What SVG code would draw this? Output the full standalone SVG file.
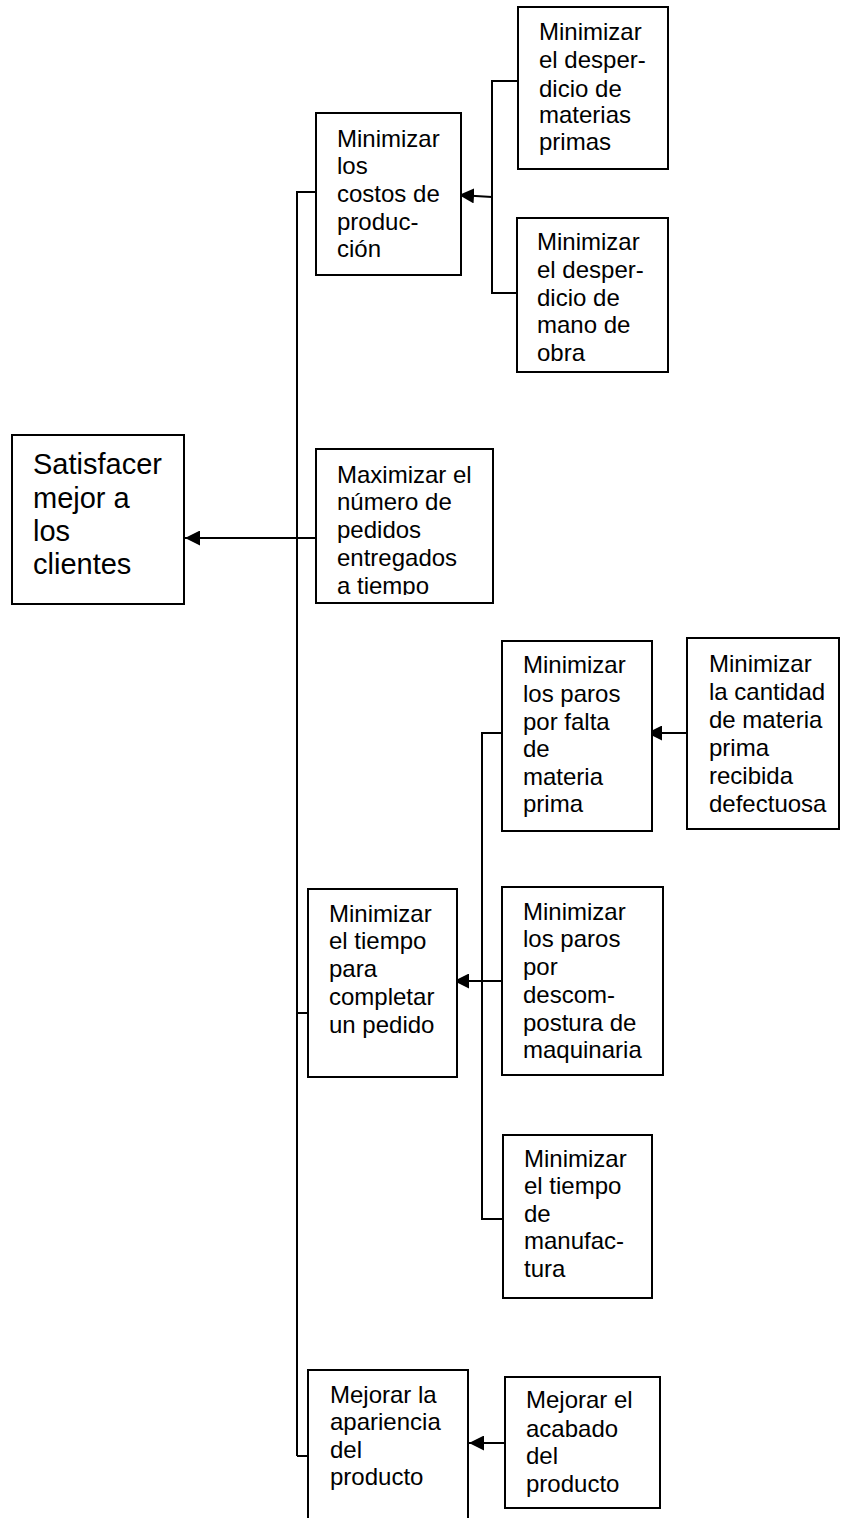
<svg xmlns="http://www.w3.org/2000/svg" width="841" height="1518" viewBox="0 0 841 1518">
<style>
.box{fill:#fff;stroke:#000;stroke-width:2}
.t{font-family:"Liberation Sans",Arial,sans-serif;font-size:24px;fill:#000}
.big{font-size:29px}
.c{fill:none;stroke:#000;stroke-width:2}
.a{fill:none;stroke:#000;stroke-width:2;marker-end:url(#ah)}
</style>
<defs>
<marker id="ah" markerUnits="userSpaceOnUse" markerWidth="16" markerHeight="15" refX="15" refY="7.5" orient="auto">
<path d="M0,0 L15,7.5 L0,15 z" fill="#000"/>
</marker>
<clipPath id="clipMax"><rect x="316" y="449" width="177" height="146"/></clipPath>
</defs>
<rect width="841" height="1518" fill="#fff"/>

<g id="connectors">
<path class="c" d="M297,1456 V192 H316"/>
<path class="c" d="M297,1013 H308"/>
<path class="c" d="M297,1456 H308"/>
<line class="a" x1="316" y1="538" x2="185" y2="538"/>
<path class="c" d="M518,81 H492 V293 H517"/>
<line class="a" x1="492" y1="197" x2="459" y2="195"/>
<path class="c" d="M502,733 H482 V1219 H503"/>
<line class="a" x1="687" y1="733" x2="647" y2="733"/>
<line class="a" x1="502" y1="981" x2="454" y2="981"/>
<line class="a" x1="505" y1="1443" x2="469" y2="1443"/>
</g>

<g id="n-satisfacer">
<rect class="box" x="12" y="435" width="172" height="169"/>
<text class="t big"><tspan x="33" y="474">Satisfacer</tspan><tspan x="33" y="508">mejor a</tspan><tspan x="33" y="541">los</tspan><tspan x="33" y="574">clientes</tspan></text>
</g>

<g id="n-costos">
<rect class="box" x="316" y="113" width="145" height="162"/>
<text class="t"><tspan x="337" y="147">Minimizar</tspan><tspan x="337" y="174">los</tspan><tspan x="337" y="202">costos de</tspan><tspan x="337" y="230">produc-</tspan><tspan x="337" y="257">ción</tspan></text>
</g>

<g id="n-materias">
<rect class="box" x="518" y="7" width="150" height="162"/>
<text class="t"><tspan x="539" y="40">Minimizar</tspan><tspan x="539" y="68">el desper-</tspan><tspan x="539" y="97">dicio de</tspan><tspan x="539" y="123">materias</tspan><tspan x="539" y="150">primas</tspan></text>
</g>

<g id="n-manoobra">
<rect class="box" x="517" y="218" width="151" height="154"/>
<text class="t"><tspan x="537" y="250">Minimizar</tspan><tspan x="537" y="278">el desper-</tspan><tspan x="537" y="306">dicio de</tspan><tspan x="537" y="333">mano de</tspan><tspan x="537" y="361">obra</tspan></text>
</g>

<g id="n-maximizar">
<rect class="box" x="316" y="449" width="177" height="154"/>
<text class="t" clip-path="url(#clipMax)"><tspan x="337" y="483">Maximizar el</tspan><tspan x="337" y="510">número de</tspan><tspan x="337" y="538">pedidos</tspan><tspan x="337" y="566">entregados</tspan><tspan x="337" y="594">a tiempo</tspan></text>
</g>

<g id="n-paros-falta">
<rect class="box" x="502" y="641" width="150" height="190"/>
<text class="t"><tspan x="523" y="673">Minimizar</tspan><tspan x="523" y="702">los paros</tspan><tspan x="523" y="730">por falta</tspan><tspan x="523" y="757">de</tspan><tspan x="523" y="785">materia</tspan><tspan x="523" y="812">prima</tspan></text>
</g>

<g id="n-cantidad">
<rect class="box" x="687" y="638" width="152" height="191"/>
<text class="t"><tspan x="709" y="672">Minimizar</tspan><tspan x="709" y="700">la cantidad</tspan><tspan x="709" y="728">de materia</tspan><tspan x="709" y="756">prima</tspan><tspan x="709" y="784">recibida</tspan><tspan x="709" y="812">defectuosa</tspan></text>
</g>

<g id="n-tiempo-pedido">
<rect class="box" x="308" y="889" width="149" height="188"/>
<text class="t"><tspan x="329" y="922">Minimizar</tspan><tspan x="329" y="949">el tiempo</tspan><tspan x="329" y="977">para</tspan><tspan x="329" y="1005">completar</tspan><tspan x="329" y="1033">un pedido</tspan></text>
</g>

<g id="n-descompostura">
<rect class="box" x="502" y="887" width="161" height="188"/>
<text class="t"><tspan x="523" y="920">Minimizar</tspan><tspan x="523" y="947">los paros</tspan><tspan x="523" y="975">por</tspan><tspan x="523" y="1003">descom-</tspan><tspan x="523" y="1031">postura de</tspan><tspan x="523" y="1058">maquinaria</tspan></text>
</g>

<g id="n-manufactura">
<rect class="box" x="503" y="1135" width="149" height="163"/>
<text class="t"><tspan x="524" y="1167">Minimizar</tspan><tspan x="524" y="1194">el tiempo</tspan><tspan x="524" y="1222">de</tspan><tspan x="524" y="1249">manufac-</tspan><tspan x="524" y="1277">tura</tspan></text>
</g>

<g id="n-apariencia">
<path class="box" d="M308,1518 V1370 H468 V1518"/>
<text class="t"><tspan x="330" y="1403">Mejorar la</tspan><tspan x="330" y="1430">apariencia</tspan><tspan x="330" y="1458">del</tspan><tspan x="330" y="1485">producto</tspan></text>
</g>

<g id="n-acabado">
<rect class="box" x="505" y="1377" width="155" height="131"/>
<text class="t"><tspan x="526" y="1408">Mejorar el</tspan><tspan x="526" y="1437">acabado</tspan><tspan x="526" y="1464">del</tspan><tspan x="526" y="1492">producto</tspan></text>
</g>
</svg>
